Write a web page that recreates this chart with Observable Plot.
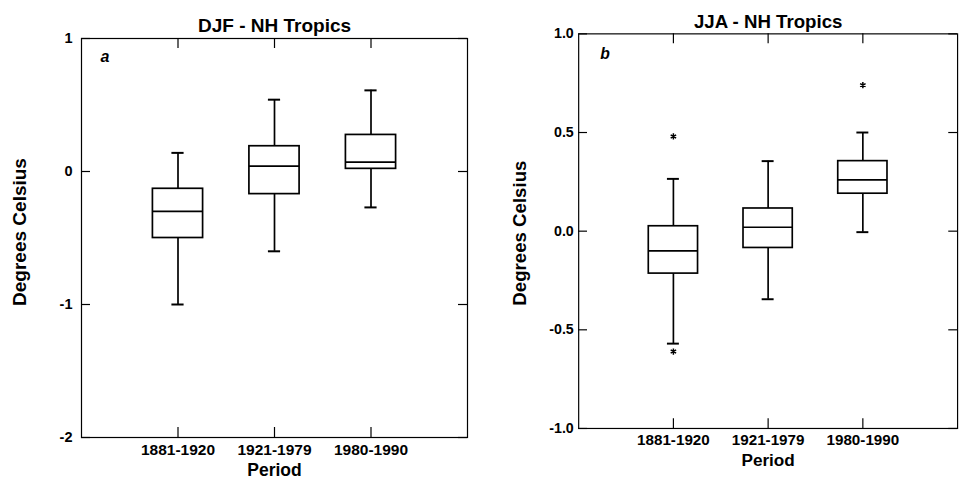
<!DOCTYPE html>
<html><head><meta charset="utf-8">
<script src="https://cdn.jsdelivr.net/npm/d3@7"></script>
<script src="https://cdn.jsdelivr.net/npm/@observablehq/plot@0.6"></script>
<style>
html,body{margin:0;padding:0;background:#fff;overflow:hidden}
#wrap{position:relative;width:962px;height:479px;overflow:hidden;background:#fff}
#a,#b{position:absolute;top:0}
#a{left:0}
#b{left:481px}
</style></head><body><div id="wrap"><div id="a"></div><div id="b"></div></div>
<script>
// categories
const periods = ["1881-1920", "1921-1979", "1980-1990"];

// Panel a: DJF - NH Tropics (box-plot summaries)
const djfLow  = [-1.00, -0.60, -0.27];
const djfQ1   = [-0.50, -0.17, 0.02];
const djfMed  = [-0.30, 0.04, 0.07];
const djfQ3   = [-0.13, 0.19, 0.275];
const djfHigh = [0.14, 0.54, 0.61];
const djfTicks = [-2, -1, 0, 1];

// Panel b: JJA - NH Tropics
const jjaLow  = [-0.57, -0.345, -0.005];
const jjaQ1   = [-0.215, -0.085, 0.19];
const jjaMed  = [-0.10, 0.02, 0.26];
const jjaQ3   = [0.025, 0.115, 0.355];
const jjaHigh = [0.265, 0.355, 0.50];
const jjaOutPeriod = ["1881-1920", "1881-1920", "1980-1990"];
const jjaOutValue  = [0.48, -0.61, 0.74];
const jjaTicks = [-1.0, -0.5, 0.0, 0.5, 1.0];

const FONT = '"Liberation Sans", Arial, Helvetica, sans-serif';

function table(lo, q1, med, q3, hi) {
  return periods.map((p, i) => ({period: p, lo: lo[i], q1: q1[i], med: med[i], q3: q3[i], hi: hi[i]}));
}

function panel(o) {
  const H = 479;
  const fw = o.width - o.mL - o.mR, fh = H - o.mT - o.mB;
  const data = o.data;
  return Plot.plot({
    width: o.width, height: H,
    marginLeft: o.mL, marginRight: o.mR, marginTop: o.mT, marginBottom: o.mB,
    style: {fontFamily: FONT, background: "white", color: "black", overflow: "visible"},
    x: {type: "band", domain: periods, paddingInner: 0.48, paddingOuter: 0.74, round: false},
    y: {domain: o.yDomain},
    marks: [
      Plot.frame({stroke: "black", strokeWidth: 1.2}),
      // inward ticks on all four sides
      Plot.ruleY(o.yTicks, {y: d => d, insetRight: fw - 9, stroke: "black", strokeWidth: 1.2}),
      Plot.ruleY(o.yTicks, {y: d => d, insetLeft: fw - 9, stroke: "black", strokeWidth: 1.2}),
      Plot.ruleX(periods, {x: d => d, insetTop: fh - 10, stroke: "black", strokeWidth: 1.2}),
      Plot.ruleX(periods, {x: d => d, insetBottom: fh - 10, stroke: "black", strokeWidth: 1.2}),
      Plot.axisY(o.yTicks, {tickSize: 0, tickPadding: o.tickPad, tickFormat: o.fmt, fontSize: 14.5, fontWeight: "bold", label: null}),
      Plot.axisX(periods, {tickSize: 0, tickPadding: 6, fontSize: 15.5, fontWeight: "bold", label: null}),
      // boxes
      Plot.ruleX(data, {x: "period", y1: "lo", y2: "q1", stroke: "black", strokeWidth: 1.7}),
      Plot.ruleX(data, {x: "period", y1: "q3", y2: "hi", stroke: "black", strokeWidth: 1.7}),
      Plot.tickY(data, {x: "period", y: "lo", insetLeft: 19, insetRight: 19, stroke: "black", strokeWidth: 2}),
      Plot.tickY(data, {x: "period", y: "hi", insetLeft: 19, insetRight: 19, stroke: "black", strokeWidth: 2}),
      Plot.barY(data, {x: "period", y1: "q1", y2: "q3", fill: "white", stroke: "black", strokeWidth: 1.7}),
      Plot.tickY(data, {x: "period", y: "med", stroke: "black", strokeWidth: 1.7}),
      Plot.dot(o.outliers, {x: "period", y: "value", symbol: "asterisk", r: 3, stroke: "black", strokeWidth: 1.5}),
      // texts
      Plot.text([o.title], {text: d => d, frameAnchor: "top", textAnchor: "middle", lineAnchor: "top", dy: o.titleDy, fontSize: 19, fontWeight: "bold", fill: "black"}),
      Plot.text([o.letter], {text: d => d, frameAnchor: "top-left", textAnchor: "start", lineAnchor: "top", dx: o.letterDx, dy: o.letterDy, fontSize: 16, fontWeight: "bold", fontStyle: "italic", fill: "black"}),
      Plot.text(["Degrees Celsius"], {text: d => d, frameAnchor: "left", textAnchor: "middle", lineAnchor: "middle", rotate: -90, dx: o.ylabDx, dy: o.ylabDy, fontSize: 19, fontWeight: "bold", fill: "black"}),
      Plot.text(["Period"], {text: d => d, frameAnchor: "bottom", textAnchor: "middle", lineAnchor: "top", dy: 26, fontSize: 17.5, fontWeight: "bold", fill: "black"})
    ]
  });
}

const A = panel({
  title: "DJF - NH Tropics", letter: "a",
  data: table(djfLow, djfQ1, djfMed, djfQ3, djfHigh),
  outliers: [],
  yDomain: [-2, 1], yTicks: djfTicks, fmt: d => d.toString(),
  width: 481, mL: 81, mR: 14, mT: 38, mB: 42,
  tickPad: 9, titleDy: -20, letterDx: 19, letterDy: 12, ylabDx: -62, ylabDy: -6
});
const B = panel({
  title: "JJA - NH Tropics", letter: "b",
  data: table(jjaLow, jjaQ1, jjaMed, jjaQ3, jjaHigh),
  outliers: jjaOutPeriod.map((p, i) => ({period: p, value: jjaOutValue[i]})),
  yDomain: [-1, 1], yTicks: jjaTicks, fmt: d => d.toFixed(1),
  width: 490, mL: 99, mR: 5, mT: 34, mB: 43,
  tickPad: 5, titleDy: -19, letterDx: 22, letterDy: 14, ylabDx: -60, ylabDy: 2
});
document.getElementById("a").appendChild(A);
document.getElementById("b").appendChild(B);
</script>
</body></html>
